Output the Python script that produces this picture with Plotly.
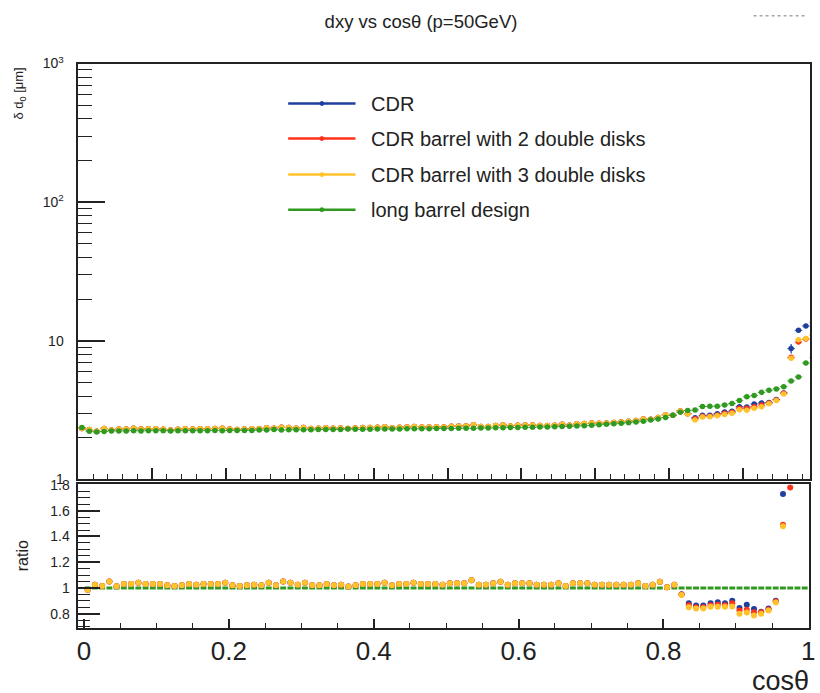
import plotly.graph_objects as go

# ---------------- data ----------------
cos_theta = [round(0.005 + 0.01 * i, 3) for i in range(100)]   # bin centres, 100 bins in [0,1]
half_bin = 0.005

# long barrel design (reference for the ratio)
green = [2.37, 2.23, 2.20, 2.22, 2.24, 2.24, 2.24, 2.25, 2.24, 2.25,
         2.25, 2.25, 2.24, 2.25, 2.25, 2.25, 2.25, 2.25, 2.26, 2.25,
         2.26, 2.26, 2.26, 2.26, 2.27, 2.27, 2.29, 2.27, 2.28, 2.28,
         2.28, 2.28, 2.29, 2.29, 2.29, 2.29, 2.31, 2.30, 2.30, 2.30,
         2.31, 2.31, 2.31, 2.31, 2.32, 2.32, 2.32, 2.32, 2.33, 2.33,
         2.33, 2.34, 2.34, 2.34, 2.35, 2.35, 2.36, 2.36, 2.37, 2.37,
         2.38, 2.38, 2.39, 2.39, 2.40, 2.41, 2.42, 2.43, 2.44, 2.46,
         2.48, 2.50, 2.52, 2.54, 2.57, 2.60, 2.63, 2.68, 2.73, 2.80,
         2.90, 3.05, 3.14, 3.17, 3.36, 3.37, 3.38, 3.45, 3.53, 3.72,
         3.95, 4.03, 4.25, 4.40, 4.50, 4.67, 5.14, 5.49, 6.92, 7.60]

# CDR barrel with 3 double disks
yellow = [2.33, 2.29, 2.23, 2.33, 2.27, 2.31, 2.31, 2.34, 2.31, 2.32,
          2.32, 2.30, 2.27, 2.30, 2.32, 2.31, 2.32, 2.32, 2.33, 2.34,
          2.31, 2.29, 2.31, 2.32, 2.32, 2.36, 2.34, 2.38, 2.37, 2.34,
          2.37, 2.33, 2.34, 2.36, 2.34, 2.35, 2.33, 2.35, 2.37, 2.37,
          2.38, 2.40, 2.36, 2.38, 2.39, 2.41, 2.39, 2.39, 2.40, 2.39,
          2.42, 2.43, 2.43, 2.48, 2.41, 2.41, 2.45, 2.47, 2.43, 2.46,
          2.47, 2.47, 2.45, 2.45, 2.46, 2.50, 2.46, 2.52, 2.53, 2.55,
          2.54, 2.56, 2.58, 2.60, 2.63, 2.66, 2.73, 2.72, 2.80, 2.93,
          2.91, 3.12, 2.97, 2.69, 2.82, 2.83, 2.88, 2.94, 3.01, 3.18,
          3.16, 3.26, 3.34, 3.52, 3.71, 4.14, 7.50, 10.2, 10.4, 11.0]

# CDR (identical to the others in the barrel region)
blue = yellow[:82] + [2.98, 2.79, 2.90, 2.91, 2.98, 3.07, 3.11, 3.35,
                      3.33, 3.50, 3.56, 3.59, 3.78, 4.21, 8.80, 11.9, 12.8, 13.5]

# CDR barrel with 2 double disks
red = yellow[:82] + [2.98, 2.74, 2.86, 2.86, 2.92, 3.00, 3.05, 3.27,
                     3.26, 3.34, 3.44, 3.56, 3.74, 4.18, 7.60, 9.80, 10.3, 11.0]

blue_err = [0.0] * 96 + [0.7, 0.5, 0.4, 0.4]

# ratio panel (w.r.t. long barrel design)
ratio_yellow = [0.985, 1.025, 1.015, 1.05, 1.012, 1.03, 1.03, 1.04, 1.03, 1.03,
                1.03, 1.02, 1.015, 1.02, 1.03, 1.025, 1.03, 1.03, 1.03, 1.04,
                1.02, 1.015, 1.02, 1.025, 1.02, 1.04, 1.02, 1.05, 1.04, 1.025,
                1.04, 1.02, 1.02, 1.03, 1.02, 1.025, 1.01, 1.02, 1.03, 1.03,
                1.03, 1.04, 1.02, 1.03, 1.03, 1.04, 1.03, 1.03, 1.03, 1.025,
                1.037, 1.037, 1.037, 1.059, 1.024, 1.024, 1.037, 1.047, 1.024, 1.037,
                1.037, 1.037, 1.024, 1.024, 1.024, 1.037, 1.015, 1.037, 1.037, 1.037,
                1.024, 1.024, 1.024, 1.024, 1.024, 1.024, 1.037, 1.015, 1.024, 1.047,
                1.005, 1.024, 0.945, 0.85, 0.84, 0.84, 0.853, 0.853, 0.853, 0.855,
                0.80, 0.808, 0.785, 0.80, 0.825, 0.886, 1.48, None, None, None]
ratio_blue = ratio_yellow[:82] + [0.95, 0.881, 0.864, 0.864, 0.881, 0.889, 0.881, 0.901,
                                  0.844, 0.869, 0.837, 0.815, 0.839, 0.901, 1.73, None, None, None]
ratio_red = ratio_yellow[:82] + [0.948, 0.865, 0.85, 0.85, 0.865, 0.87, 0.865, 0.88,
                                 0.825, 0.83, 0.81, 0.81, 0.832, 0.895, 1.49, 1.78, None, None]
ratio_green = [1.0] * 100

names = ["CDR", "CDR barrel with 2 double disks", "CDR barrel with 3 double disks", "long barrel design"]
colors = ["#1f3f9f", "#ff3318", "#ffc22a", "#2f9a1f"]

# ---------------- figure ----------------
W, H = 820, 693
def px(x):
    return x / W
def py(y):
    return 1 - y / H

fig = go.Figure()

upper = [(blue, blue_err), (red, None), (yellow, None), (green, None)]
for (vals, err), name, col in zip(upper, names, colors):
    ey = dict(type="data", array=err, visible=True, width=0, thickness=1.2, color=col) if err else None
    fig.add_trace(go.Scatter(
        x=cos_theta, y=vals, mode="markers", name=name, showlegend=False,
        marker=dict(color=col, size=5.5, symbol="circle"),
        error_x=dict(type="constant", value=half_bin, width=0, thickness=1, color=col),
        error_y=ey, xaxis="x", yaxis="y"))

fig.add_trace(go.Scatter(
    x=cos_theta, y=ratio_green, mode="markers", showlegend=False,
    marker=dict(color=colors[3], size=4.2, symbol="line-ew", line=dict(color=colors[3], width=3)),
    xaxis="x2", yaxis="y2"))
for vals, col in zip([ratio_blue, ratio_red, ratio_yellow], colors[:3]):
    fig.add_trace(go.Scatter(
        x=cos_theta, y=vals, mode="markers", showlegend=False,
        marker=dict(color=col, size=6, symbol="circle"),
        xaxis="x2", yaxis="y2"))

axcol = "#222222"
tickfont_small = dict(family="Liberation Sans, Arial, sans-serif", size=14, color="#222")

fig.update_layout(
    width=W, height=H, margin=dict(l=0, r=0, t=0, b=0),
    paper_bgcolor="white", plot_bgcolor="white", showlegend=False,
    font=dict(family="Liberation Sans, Arial, sans-serif", color="#222"),
    title=dict(text="dxy vs cosθ (p=50GeV)", x=px(421), y=py(22), xanchor="center", yanchor="middle",
               font=dict(size=18.5, color="#222")),
    xaxis=dict(domain=[px(78), px(817)], range=[0.0, 0.9906], showticklabels=False,
               showline=True, mirror=True, linecolor=axcol, linewidth=1.5,
               showgrid=False, zeroline=False,
               ticks="inside", tick0=0, dtick=0.1, ticklen=12, tickcolor=axcol, tickwidth=1.5,
               minor=dict(ticks="inside", tick0=0, dtick=0.02, ticklen=6, tickcolor=axcol, tickwidth=1.2),
               anchor="y"),
    yaxis=dict(domain=[py(482), py(55)], type="log", range=[0, 3],
               showline=True, mirror=True, linecolor=axcol, linewidth=1.5,
               showgrid=False, zeroline=False,
               tickmode="array", tickvals=[1, 10, 100, 1000],
               ticktext=["1", "10", "10<sup>2</sup>", "10<sup>3</sup>"],
               ticks="inside", ticklen=27, tickcolor=axcol, tickwidth=1.5,
               tickfont=tickfont_small, ticklabelstandoff=10,
               minor=dict(ticks="inside", tickmode="array",
                          tickvals=[2, 3, 4, 5, 6, 7, 8, 9, 20, 30, 40, 50, 60, 70, 80, 90,
                                    200, 300, 400, 500, 600, 700, 800, 900],
                          ticklen=14, tickcolor=axcol, tickwidth=1.2),
               anchor="x"),
    xaxis2=dict(domain=[px(78), px(816)], range=[-0.008, 1.001],
                showline=True, mirror=True, linecolor=axcol, linewidth=1.5,
                showgrid=False, zeroline=False,
                tickmode="array", tickvals=[0, 0.2, 0.4, 0.6, 0.8, 1.0],
                ticktext=["0", "0.2", "0.4", "0.6", "0.8", "1"],
                ticks="inside", ticklen=9, tickcolor=axcol, tickwidth=1.5,
                ticklabeloverflow="allow",
                tickfont=dict(family="Liberation Sans, Arial, sans-serif", size=26, color="#222"),
                minor=dict(ticks="inside", tick0=0, dtick=0.05, ticklen=5, tickcolor=axcol, tickwidth=1.2),
                anchor="y2"),
    yaxis2=dict(domain=[py(634), py(487)], range=[0.692, 1.805],
                showline=True, mirror=True, linecolor=axcol, linewidth=1.5,
                showgrid=False, zeroline=False,
                tickmode="array", tickvals=[0.8, 1.0, 1.2, 1.4, 1.6, 1.8],
                ticktext=["0.8", "1", "1.2", "1.4", "1.6", "1.8"],
                ticks="inside", ticklen=22, tickcolor=axcol, tickwidth=1.5,
                tickfont=tickfont_small, ticklabelstandoff=4,
                minor=dict(ticks="inside", tick0=0, dtick=0.05, ticklen=12, tickcolor=axcol, tickwidth=1.2),
                anchor="x2"),
)

# axis titles
fig.add_annotation(text="δ d<sub>0</sub> [μm]", x=px(19), y=py(86), xref="paper", yref="paper",
                   textangle=-90, showarrow=False, font=dict(size=13, color="#222"),
                   xanchor="center", yanchor="middle")
fig.add_annotation(text="ratio", x=px(22), y=py(560), xref="paper", yref="paper",
                   textangle=-90, showarrow=False, font=dict(size=16, color="#222"),
                   xanchor="center", yanchor="middle")
fig.add_annotation(text="cosθ", x=px(818), y=py(671), xref="paper", yref="paper",
                   showarrow=False, font=dict(size=27, color="#222"),
                   xanchor="right", yanchor="top")

# legend (drawn by hand to mimic the ROOT legend)
leg_rows = [96, 132, 169, 205]
for name, col, yy in zip(names, colors, leg_rows):
    fig.add_shape(type="line", xref="paper", yref="paper", x0=px(290), x1=px(358), y0=py(yy), y1=py(yy),
                  line=dict(color=col, width=2.5))
    fig.add_shape(type="circle", xref="paper", yref="paper", x0=px(322), x1=px(326), y0=py(yy + 2), y1=py(yy - 2),
                  line=dict(color=col, width=1), fillcolor=col)
    fig.add_annotation(text=name, x=px(372), y=py(yy), xref="paper", yref="paper", showarrow=False,
                       font=dict(size=20, color="#222"), xanchor="left", yanchor="middle")

# remnant of the stats box border (top right)
fig.add_shape(type="line", xref="paper", yref="paper", x0=px(760), x1=px(812), y0=py(6), y1=py(6),
              line=dict(color="#777", width=1, dash="dot"))

fig.write_html("out.html")
